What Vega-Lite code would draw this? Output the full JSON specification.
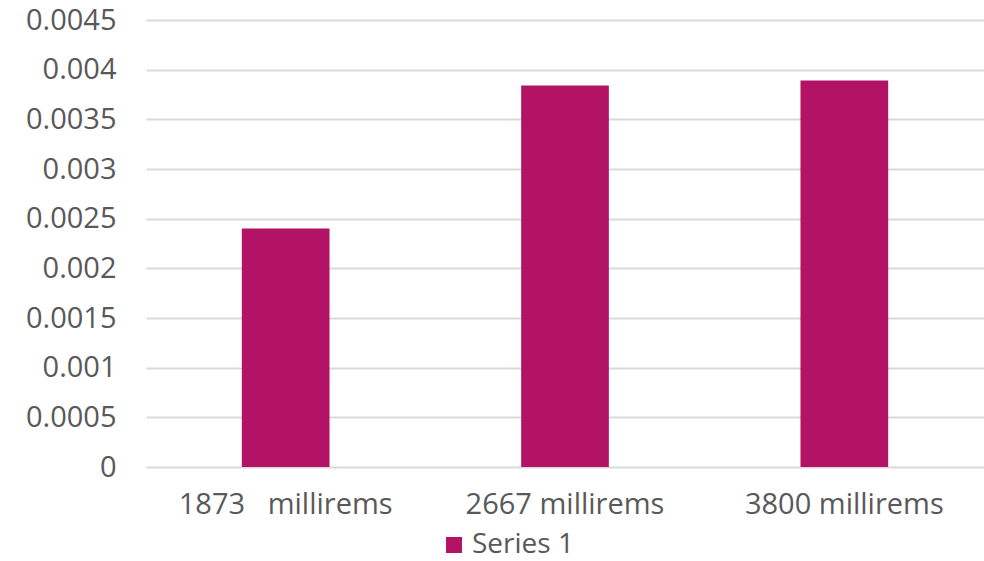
{
  "$schema": "https://vega.github.io/schema/vega-lite/v6.json",
  "autosize": {"type": "none"},
  "width": 838,
  "height": 447,
  "padding": {"left": 146, "top": 20, "right": 0, "bottom": 94},
  "background": "white",
  "data": {
    "values": [
      {"category": "1873\u00a0\u00a0\u00a0millirems", "series": "Series 1", "value": 0.0024},
      {"category": "2667 millirems", "series": "Series 1", "value": 0.00384},
      {"category": "3800 millirems", "series": "Series 1", "value": 0.00389}
    ]
  },
  "config": {
    "view": {"stroke": null},
    "font": "Open Sans"
  },
  "mark": {"type": "bar"},
  "encoding": {
    "x": {
      "field": "category",
      "type": "nominal",
      "sort": null,
      "scale": {"paddingInner": 0.686, "paddingOuter": 0.343},
      "axis": {
        "title": null,
        "labelAngle": 0,
        "labelFontSize": 29,
        "labelLimit": 0,
        "labelColor": "#595959",
        "labelPadding": 23,
        "ticks": false,
        "domain": false,
        "grid": false
      }
    },
    "y": {
      "field": "value",
      "type": "quantitative",
      "scale": {"domain": [0, 0.0045], "nice": false},
      "axis": {
        "title": null,
        "values": [0, 0.0005, 0.001, 0.0015, 0.002, 0.0025, 0.003, 0.0035, 0.004, 0.0045],
        "format": "~g",
        "labelFontSize": 29,
        "labelColor": "#595959",
        "labelPadding": 30,
        "ticks": false,
        "domain": false,
        "gridColor": "#d9d9d9",
        "gridWidth": 2
      }
    },
    "color": {
      "field": "series",
      "type": "nominal",
      "scale": {"range": ["#b31365"]},
      "legend": {
        "title": null,
        "orient": "none",
        "legendX": 294,
        "legendY": 511,
        "symbolType": "square",
        "symbolSize": 256,
        "labelFontSize": 28,
        "labelLimit": 0,
        "labelColor": "#595959",
        "labelOffset": 4
      }
    }
  }
}
